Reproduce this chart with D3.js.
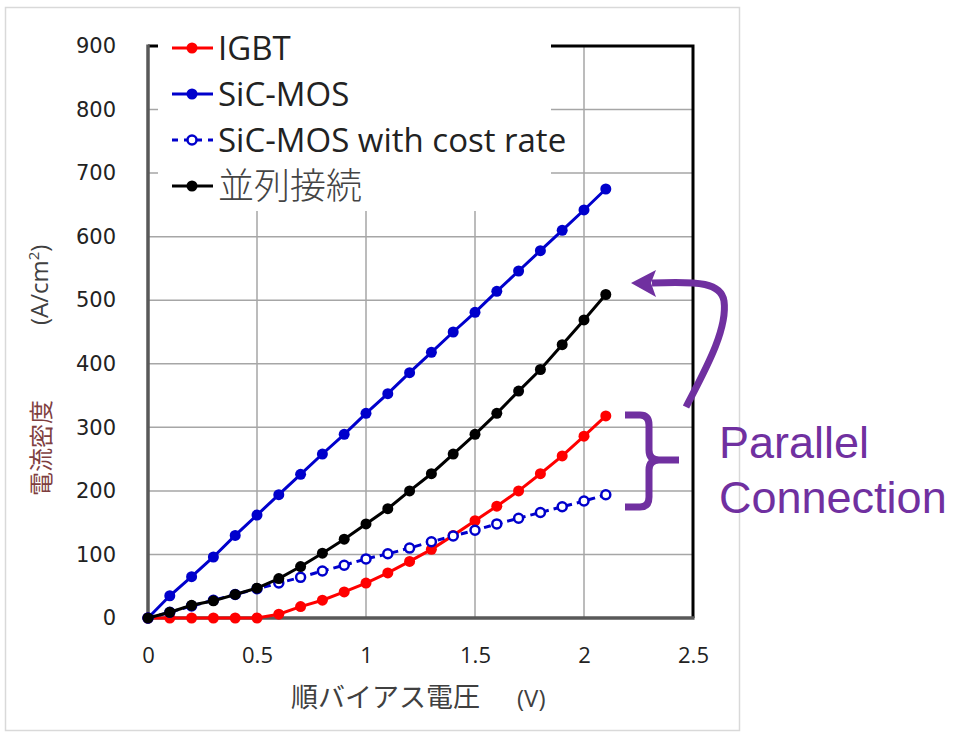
<!DOCTYPE html>
<html>
<head>
<meta charset="utf-8">
<script src="https://cdn.jsdelivr.net/npm/d3@7"></script>
<style>
  body { margin: 0; background: #fff; }
  svg { display: block; }
</style>
</head>
<body>
<svg id="chart" width="960" height="735"></svg>
<script>
// voltage steps (V)
var voltage = [0, 0.1, 0.2, 0.3, 0.4, 0.5, 0.6, 0.7, 0.8, 0.9, 1.0,
               1.1, 1.2, 1.3, 1.4, 1.5, 1.6, 1.7, 1.8, 1.9, 2.0, 2.1];

// current density (A/cm2)
var igbt     = [0, 0, 0, 0, 0, 0, 6, 18, 28, 41, 55, 71, 89, 108, 130, 153, 176, 200, 227, 255, 286, 318];
var sicMos   = [0, 35, 65, 96, 130, 162, 194, 226, 258, 289, 322, 353, 386, 418, 450, 481, 514, 546, 578, 610, 642, 675];
var sicCost  = [0, 9, 19, 28, 37, 46, 55, 64, 74, 83, 93, 101, 110, 120, 129, 138, 148, 157, 166, 175, 184, 194];
var parallel = [0, 9, 20, 27, 37, 47, 62, 81, 102, 124, 148, 172, 200, 227, 258, 289, 322, 357, 391, 430, 469, 509];

var xTicks = [0, 0.5, 1, 1.5, 2, 2.5];
var yTicks = [0, 100, 200, 300, 400, 500, 600, 700, 800, 900];

var seriesNames = ["IGBT", "SiC-MOS", "SiC-MOS with cost rate", "並列接続"];

var svg = d3.select("#chart");

// outer frame of the chart object
svg.append("rect")
   .attr("x", 5.5).attr("y", 7.5)
   .attr("width", 734).attr("height", 723)
   .attr("fill", "#fff")
   .attr("stroke", "#d9d9d9")
   .attr("stroke-width", 1.5);

var x = d3.scaleLinear().domain([0, 2.5]).range([148, 693]);
var y = d3.scaleLinear().domain([0, 900]).range([618, 46]);

// grid
var grid = svg.append("g");
grid.selectAll(".gx")
    .data(xTicks.slice(1, -1))
    .enter().append("line")
    .attr("x1", function(d) { return x(d); })
    .attr("x2", function(d) { return x(d); })
    .attr("y1", y(900)).attr("y2", y(0))
    .attr("stroke", "#a6a6a6").attr("stroke-width", 1.5);
grid.selectAll(".gy")
    .data(yTicks.slice(1, -1))
    .enter().append("line")
    .attr("x1", x(0)).attr("x2", x(2.5))
    .attr("y1", function(d) { return y(d); })
    .attr("y2", function(d) { return y(d); })
    .attr("stroke", "#a6a6a6").attr("stroke-width", 1.5);

// frame: black top + right, gray left + bottom
svg.append("path")
   .attr("d", "M" + x(0) + "," + y(900) + "H" + x(2.5) + "V" + y(0))
   .attr("fill", "none").attr("stroke", "#000").attr("stroke-width", 3);

// legend box hides the grid behind it
svg.append("rect")
   .attr("x", 158).attr("y", 26)
   .attr("width", 393).attr("height", 185)
   .attr("fill", "#fff");

svg.append("line")
   .attr("x1", x(0)).attr("x2", x(0))
   .attr("y1", y(900) - 1.5).attr("y2", y(0))
   .attr("stroke", "#595959").attr("stroke-width", 3.5);
svg.append("line")
   .attr("x1", x(0)).attr("x2", x(2.5) + 1.5)
   .attr("y1", y(0)).attr("y2", y(0))
   .attr("stroke", "#595959").attr("stroke-width", 3.5);

// axes (labels only)
var xAxis = d3.axisBottom(x).tickValues(xTicks).tickSize(0).tickPadding(0)
              .tickFormat(d3.format("~g"));
svg.append("g")
   .attr("transform", "translate(0,647)")
   .call(xAxis)
   .call(function(g) { g.select(".domain").remove(); })
   .selectAll("text")
   .attr("dy", "0.71em")
   .attr("fill", "#222")
   .style("font-family", "'Open Sans', sans-serif")
   .style("font-size", "22px");

var yAxis = d3.axisLeft(y).tickValues(yTicks).tickSize(0).tickPadding(0);
svg.append("g")
   .attr("transform", "translate(116,0)")
   .call(yAxis)
   .call(function(g) { g.select(".domain").remove(); })
   .selectAll("text")
   .attr("fill", "#222")
   .style("font-family", "'DejaVu Sans', sans-serif")
   .style("font-size", "21px");

// axis titles
svg.append("text")
   .attr("x", 291).attr("y", 707)
   .attr("fill", "#404040")
   .style("font-family", "'Noto Sans CJK JP', sans-serif")
   .style("font-size", "27px")
   .text("順バイアス電圧")
   .append("tspan")
   .attr("x", 517)
   .style("font-family", "'Open Sans', sans-serif")
   .style("font-size", "24px")
   .text("(V)");

var yTitle = svg.append("text")
   .attr("transform", "translate(50,496) rotate(-90)")
   .style("font-family", "'Noto Sans CJK JP', sans-serif")
   .style("font-size", "24px");
yTitle.append("tspan").attr("fill", "#7f3f3f").text("電流密度");
yTitle.append("tspan").attr("fill", "#404040").attr("x", 171).attr("dy", -2)
      .style("font-family", "'Open Sans', sans-serif").text("(A/cm");
yTitle.append("tspan").attr("fill", "#404040").attr("dy", -9)
      .style("font-family", "'Open Sans', sans-serif").style("font-size", "15px").text("2");
yTitle.append("tspan").attr("fill", "#404040").attr("dy", 9)
      .style("font-family", "'Open Sans', sans-serif").text(")");

// series
var series = [
  { name: seriesNames[0], values: igbt,     color: "#ff0000", dash: null, open: false },
  { name: seriesNames[1], values: sicMos,   color: "#0000cc", dash: null, open: false },
  { name: seriesNames[2], values: sicCost,  color: "#0000cc", dash: "7,5", open: true },
  { name: seriesNames[3], values: parallel, color: "#000000", dash: null, open: false }
];

var line = d3.line()
  .x(function(d) { return x(d[0]); })
  .y(function(d) { return y(d[1]); });

series.forEach(function(s) {
  var pts = voltage.map(function(v, i) { return [v, s.values[i]]; });
  var g = svg.append("g");
  g.append("path")
   .attr("d", line(pts))
   .attr("fill", "none")
   .attr("stroke", s.color)
   .attr("stroke-width", 3)
   .attr("stroke-dasharray", s.dash);
  g.selectAll("circle")
   .data(pts)
   .enter().append("circle")
   .attr("cx", function(d) { return x(d[0]); })
   .attr("cy", function(d) { return y(d[1]); })
   .attr("r", s.open ? 4.5 : 5.5)
   .attr("fill", s.open ? "#fff" : s.color)
   .attr("stroke", s.color)
   .attr("stroke-width", s.open ? 2.5 : 0);
});

// legend
var legend = svg.append("g");
var rowY = [48, 94, 140, 186];
series.forEach(function(s, i) {
  var row = legend.append("g").attr("transform", "translate(0," + rowY[i] + ")");
  row.append("line")
     .attr("x1", 172).attr("x2", 213)
     .attr("stroke", s.color).attr("stroke-width", 3)
     .attr("stroke-dasharray", s.dash ? "6,6" : null);
  row.append("circle")
     .attr("cx", 192).attr("r", s.open ? 4.5 : 5.5)
     .attr("fill", s.open ? "#fff" : s.color)
     .attr("stroke", s.color)
     .attr("stroke-width", s.open ? 2.5 : 0);
  row.append("text")
     .attr("x", 218).attr("dy", "0.36em")
     .attr("fill", i == 3 ? "#444" : "#222")
     .style("font-family", i == 3 ? "'Noto Sans CJK JP', sans-serif" : "'Open Sans', sans-serif")
     .style("font-size", i == 3 ? "36px" : "33px")
     .style("font-weight", i == 3 ? "300" : "normal")
     .text(s.name);
});

// annotation
var purple = "#7030a0";
var note = svg.append("g");
note.append("path")
    .attr("d", "M686,407 C704,372 728,330 724,301 C721,283 700,281 652,283")
    .attr("fill", "none").attr("stroke", purple).attr("stroke-width", 7);
note.append("path")
    .attr("d", "M631,283 L656,270 L651,283 L656,297 Z")
    .attr("fill", purple);
note.append("path")
    .attr("d", "M625,415 H640 Q649,415 649,425 V450 Q649,460 659,460 H679 M659,460 Q649,460 649,470 V497 Q649,507 640,507 H625")
    .attr("fill", "none").attr("stroke", purple).attr("stroke-width", 7);
note.append("text")
    .attr("x", 719).attr("y", 458)
    .attr("fill", purple)
    .style("font-family", "'Liberation Sans', Arial, sans-serif")
    .style("font-size", "45px")
    .text("Parallel");
note.append("text")
    .attr("x", 719).attr("y", 513)
    .attr("fill", purple)
    .style("font-family", "'Liberation Sans', Arial, sans-serif")
    .style("font-size", "45px")
    .text("Connection");
</script>
</body>
</html>
